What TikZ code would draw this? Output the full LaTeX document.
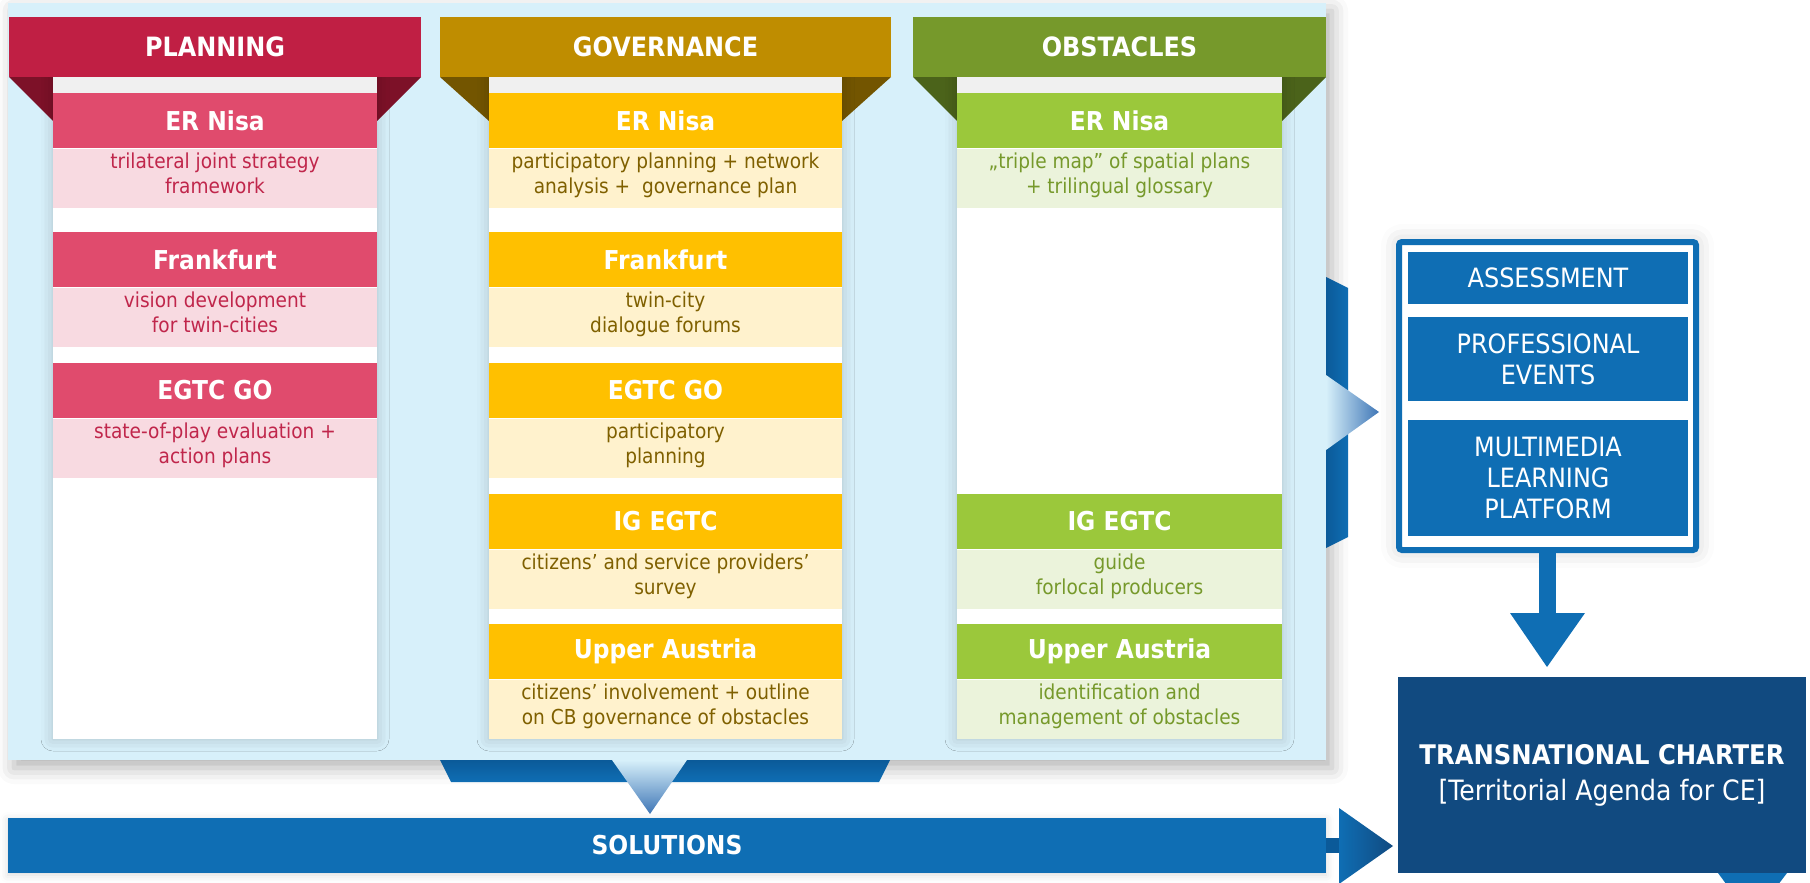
\documentclass[tikz,border=0pt]{standalone}
\usepackage{fontspec}
\setmainfont{DejaVu Sans}[FakeStretch=0.9]
\usetikzlibrary{positioning,shadows.blur}

\definecolor{panel}{HTML}{D7F0FA}
\definecolor{plhd}{HTML}{C01F44}
\definecolor{plfold}{HTML}{7D1128}
\definecolor{plrow}{HTML}{E04B6D}
\definecolor{plbg}{HTML}{F8DAE1}
\definecolor{pltxt}{HTML}{C0264B}
\definecolor{gvhd}{HTML}{BF8D00}
\definecolor{gvfold}{HTML}{735500}
\definecolor{gvrow}{HTML}{FFC000}
\definecolor{gvbg}{HTML}{FFF2CD}
\definecolor{gvtxt}{HTML}{7F6000}
\definecolor{obhd}{HTML}{76992B}
\definecolor{obfold}{HTML}{4B631A}
\definecolor{obrow}{HTML}{9BC83B}
\definecolor{obbg}{HTML}{EBF3DB}
\definecolor{obtxt}{HTML}{76992B}
\definecolor{solblue}{HTML}{0F6EB4}
\definecolor{banddark}{HTML}{0B5A99}
\definecolor{notch}{HTML}{3F76B6}
\definecolor{charter}{HTML}{114A80}

\begin{document}
\begin{tikzpicture}[x=0.5pt, y=-0.5pt,
    title/.style={inner sep=0pt, minimum height=30pt, text=white, font=\fontsize{13.3}{15}\selectfont\bfseries},
    hdr/.style={inner sep=0pt, minimum height=27.5pt, text=white, font=\fontsize{13}{14}\selectfont\bfseries},
    desc/.style={inner sep=0pt, minimum height=29.5pt, align=center, text height=22.4pt, text depth=7pt,
                 font=\fontsize{10.3}{12.5}\selectfont},
    plhead/.style={hdr, fill=plrow, minimum width=162pt},
    pldesc/.style={desc, fill=plbg, text=pltxt, minimum width=162pt},
    gvhead/.style={hdr, fill=gvrow, minimum width=176.5pt},
    gvdesc/.style={desc, fill=gvbg, text=gvtxt, minimum width=176.5pt},
    obhead/.style={hdr, fill=obrow, minimum width=162.5pt},
    obdesc/.style={desc, fill=obbg, text=obtxt, minimum width=162.5pt},
    bluebox/.style={fill=solblue, text=white, inner sep=0pt, minimum width=140pt, align=center, font=\fontsize{13.3}{15.5}\selectfont},
    colshadow/.style={blur shadow={shadow xshift=0pt, shadow yshift=0pt, shadow blur radius=6pt, shadow opacity=20}}]

  \useasboundingbox (0,0) rectangle (1810,883);

  % panel with the three columns
  \fill[panel, blur shadow={shadow xshift=3pt, shadow yshift=-4pt, shadow blur radius=8pt, shadow opacity=30}] (8,3) rectangle (1326,760);

  % bands leading out of the panel
  \shade[top color=banddark, bottom color=solblue] (440,760) -- (890,760) -- (879,782) -- (451,782) -- cycle;
  \shade[top color=panel, bottom color=notch] (612,760) -- (687,760) -- (650,814) -- cycle;
  \shade[left color=banddark, right color=solblue] (1326,277) -- (1348,288) -- (1348,537) -- (1326,548) -- cycle;
  \shade[left color=panel, right color=notch] (1326,375) -- (1379,412) -- (1326,450) -- cycle;

  % folds under the titles
  \fill[plfold] (9,77) -- (53,77) -- (53,121) -- cycle;
  \fill[plfold] (377,77) -- (421,77) -- (377,121) -- cycle;
  \fill[gvfold] (440,77) -- (489,77) -- (489,121) -- cycle;
  \fill[gvfold] (842,77) -- (891,77) -- (842,121) -- cycle;
  \fill[obfold] (913,77) -- (957,77) -- (957,121) -- cycle;
  \fill[obfold] (1282,77) -- (1326,77) -- (1282,121) -- cycle;

  % white columns
  \fill[white, colshadow] (53,77) rectangle (377,739);
  \fill[white, colshadow] (489,77) rectangle (842,739);
  \fill[white, colshadow] (957,77) rectangle (1282,739);
  \fill[gray!12] (53,77) rectangle (377,93);
  \fill[gray!12] (489,77) rectangle (842,93);
  \fill[gray!12] (957,77) rectangle (1282,93);

  % titles
  \node[title, fill=plhd, minimum width=206pt] (plan) at (215,47) {PLANNING};
  \node[title, fill=gvhd, minimum width=225.5pt] (gov) at (665.5,47) {GOVERNANCE};
  \node[title, fill=obhd, minimum width=206.5pt] (obst) at (1119.5,47) {OBSTACLES};

  % planning
  \node[plhead] (pl1) at (215,120.5) {ER Nisa};
  \node[pldesc, below=0pt of pl1] (pl1d) {trilateral joint strategy\\framework};
  \node[plhead] (pl2) at (215,259.5) {Frankfurt};
  \node[pldesc, below=0pt of pl2] (pl2d) {vision development\\for twin-cities};
  \node[plhead] (pl3) at (215,390.5) {EGTC GO};
  \node[pldesc, below=0pt of pl3] (pl3d) {state-of-play evaluation +\\action plans};

  % governance
  \node[gvhead] (gv1) at (665.5,120.5) {ER Nisa};
  \node[gvdesc, below=0pt of gv1] (gv1d) {participatory planning + network\\analysis +\ \ governance plan};
  \node[gvhead] (gv2) at (665.5,259.5) {Frankfurt};
  \node[gvdesc, below=0pt of gv2] (gv2d) {twin-city\\dialogue forums};
  \node[gvhead] (gv3) at (665.5,390.5) {EGTC GO};
  \node[gvdesc, below=0pt of gv3] (gv3d) {participatory\\planning};
  \node[gvhead] (gv4) at (665.5,521.5) {IG EGTC};
  \node[gvdesc, below=0pt of gv4] (gv4d) {citizens’ and service providers’\\survey};
  \node[gvhead] (gv5) at (665.5,651.5) {Upper Austria};
  \node[gvdesc, below=0pt of gv5] (gv5d) {citizens’ involvement + outline\\on CB governance of obstacles};

  % obstacles
  \node[obhead] (ob1) at (1119.5,120.5) {ER Nisa};
  \node[obdesc, below=0pt of ob1] (ob1d) {„triple map” of spatial plans\\+ trilingual glossary};
  \node[obhead] (ob4) at (1119.5,521.5) {IG EGTC};
  \node[obdesc, below=0pt of ob4] (ob4d) {guide\\forlocal producers};
  \node[obhead] (ob5) at (1119.5,651.5) {Upper Austria};
  \node[obdesc, below=0pt of ob5] (ob5d) {identification and\\management of obstacles};

  % solutions bar and arrow to the charter
  \node[fill=solblue, text=white, inner sep=0pt, minimum width=659pt, minimum height=27.5pt,
        font=\fontsize{13}{15}\selectfont\bfseries,
        blur shadow={shadow xshift=0pt, shadow yshift=-1pt, shadow blur radius=4pt, shadow opacity=15}] (sol) at (667,845.5) {SOLUTIONS};
  \fill[banddark] (1326,838) rectangle (1339,853);
  \shade[left color=solblue, right color=charter] (1339,808) -- (1393,846) -- (1339,884) -- cycle;

  % tools box
  \draw[solblue, line width=3pt, fill=white, rounded corners=1.5pt,
        blur shadow={shadow xshift=0pt, shadow yshift=0pt, shadow blur radius=9pt, shadow opacity=20}] (1399,242) rectangle (1696,550);
  \node[bluebox, minimum height=26pt] (assess) at (1548,278) {ASSESSMENT};
  \node[bluebox, minimum height=42pt] (events) at (1548,359) {PROFESSIONAL\\EVENTS};
  \node[bluebox, minimum height=58pt] (media) at (1548,478) {MULTIMEDIA\\LEARNING\\PLATFORM};
  \fill[solblue] (1539,550) rectangle (1556,613);
  \fill[solblue] (1510,613) -- (1585,613) -- (1547,667) -- cycle;

  % charter
  \fill[solblue] (1718,873) -- (1787,873) -- (1752,919) -- cycle;
  \node[fill=charter, text=white, inner sep=0pt, minimum width=204pt, minimum height=98pt, align=center,
        font=\fontsize{14}{18}\selectfont] (chart) at (1602,775) {{\fontsize{13.5}{18}\selectfont\bfseries TRANSNATIONAL CHARTER}\\{}[Territorial Agenda for CE]};

\end{tikzpicture}
\end{document}
